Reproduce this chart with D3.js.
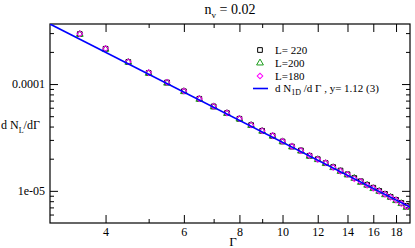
<!DOCTYPE html>
<html>
<head>
<meta charset="utf-8">
<script src="https://cdn.jsdelivr.net/npm/d3@7"></script>
<style>
  body { margin: 0; background: #fff; }
  text { font-family: "Liberation Serif", "DejaVu Serif", serif; fill: #000; }
  .tick line { stroke: #000; }
</style>
</head>
<body>
<div id="chart"></div>
<script>
{
  const gamma = [3.5, 4, 4.5, 5, 5.5, 6, 6.5, 7, 7.5, 8, 8.5, 9, 9.5, 10, 10.5, 11,
    11.5, 12, 12.5, 13, 13.5, 14, 14.5, 15, 15.5, 16, 16.5, 17, 17.5, 18, 18.5, 19];

  const nL220 = [2.94e-4, 2.14e-4, 1.61e-4, 1.27e-4, 1.035e-4, 8.56e-5, 7.28e-5, 6.17e-5,
    5.35e-5, 4.73e-5, 4.13e-5, 3.65e-5, 3.28e-5, 2.90e-5, 2.60e-5, 2.39e-5,
    2.13e-5, 1.98e-5, 1.82e-5, 1.67e-5, 1.55e-5, 1.43e-5, 1.32e-5, 1.23e-5,
    1.14e-5, 1.07e-5, 1.00e-5, 9.37e-6, 8.79e-6, 8.24e-6, 7.72e-6, 7.24e-6];
  const nL200 = [2.92e-4, 2.12e-4, 1.60e-4, 1.26e-4, 1.02e-4, 8.50e-5, 7.20e-5, 6.12e-5,
    5.30e-5, 4.70e-5, 4.10e-5, 3.62e-5, 3.25e-5, 2.88e-5, 2.58e-5, 2.36e-5,
    2.11e-5, 1.96e-5, 1.80e-5, 1.65e-5, 1.52e-5, 1.41e-5, 1.31e-5, 1.20e-5,
    1.13e-5, 1.05e-5, 9.9e-6, 9.2e-6, 8.7e-6, 8.1e-6, 7.6e-6, 7.0e-6];
  const nL180 = [2.96e-4, 2.15e-4, 1.62e-4, 1.28e-4, 1.04e-4, 8.6e-5, 7.3e-5, 6.2e-5,
    5.37e-5, 4.75e-5, 4.14e-5, 3.66e-5, 3.29e-5, 2.91e-5, 2.61e-5, 2.38e-5,
    2.14e-5, 1.97e-5, 1.83e-5, 1.66e-5, 1.53e-5, 1.42e-5, 1.30e-5, 1.22e-5,
    1.13e-5, 1.06e-5, 9.9e-6, 9.3e-6, 8.7e-6, 8.2e-6, 7.6e-6, 7.1e-6];

  // fitted power law, drawn between its two ends
  const fitGamma = [3, 19.35];
  const fitValue = [3.65e-4, 7.05e-6];

  const xMajor = [4, 6, 8, 10, 12, 14, 16, 18];
  const xMinor = [5, 7, 9];
  const yMajor = [1e-4, 1e-5];
  const yMajorLabels = ['0.0001', '1e-05'];
  const yMinor = [6e-6, 7e-6, 8e-6, 9e-6, 2e-5, 3e-5, 4e-5, 5e-5, 6e-5, 7e-5, 8e-5, 9e-5, 2e-4, 3e-4];

  const series = [
    { label: 'L= 220', values: nL220, shape: 'square', color: '#000000' },
    { label: 'L=200', values: nL200, shape: 'triangle', color: '#1a9c1a' },
    { label: 'L=180', values: nL180, shape: 'diamond', color: '#ff00ff' },
  ];

  const W = 415;
  const H = 248;
  const margin = { top: 24, right: 5, bottom: 25, left: 50 };

  const svg = d3.select('#chart').append('svg')
    .attr('width', W)
    .attr('height', H);

  const x = d3.scaleLog()
    .domain([3, 19.35])
    .range([margin.left, W - margin.right]);
  const y = d3.scaleLog()
    .domain([5e-6, 3.65e-4])
    .range([H - margin.bottom, margin.top]);

  const bottom = H - margin.bottom;
  const right = W - margin.right;

  function drawAxis(axis, tx, ty) {
    const g = svg.append('g')
      .attr('transform', `translate(${tx},${ty})`)
      .call(axis);
    g.select('.domain').remove();
    g.selectAll('text').style('font-size', '12px').style('font-family', '"Liberation Serif", serif');
    return g;
  }

  // x axes (ticks point inward)
  drawAxis(d3.axisBottom(x).tickValues(xMajor).tickSize(-8).tickPadding(4)
    .tickFormat(d3.format('d')), 0, bottom);
  drawAxis(d3.axisBottom(x).tickValues(xMinor).tickSize(-4).tickFormat(''), 0, bottom);
  drawAxis(d3.axisTop(x).tickValues(xMajor).tickSize(-8).tickFormat(''), 0, margin.top);
  drawAxis(d3.axisTop(x).tickValues(xMinor).tickSize(-4).tickFormat(''), 0, margin.top);

  // y axes
  drawAxis(d3.axisLeft(y).tickValues(yMajor).tickSize(-8).tickPadding(5)
    .tickFormat((d, i) => yMajorLabels[i]), margin.left, 0);
  drawAxis(d3.axisLeft(y).tickValues(yMinor).tickSize(-4).tickFormat(''), margin.left, 0);
  drawAxis(d3.axisRight(y).tickValues(yMajor).tickSize(-8).tickFormat(''), right, 0);
  drawAxis(d3.axisRight(y).tickValues(yMinor).tickSize(-4).tickFormat(''), right, 0);

  svg.append('rect')
    .attr('x', margin.left)
    .attr('y', margin.top)
    .attr('width', right - margin.left)
    .attr('height', bottom - margin.top)
    .attr('fill', 'none')
    .attr('stroke', '#000')
    .attr('stroke-width', 1.2);

  svg.append('clipPath').attr('id', 'clip')
    .append('rect')
    .attr('x', margin.left)
    .attr('y', margin.top)
    .attr('width', right - margin.left)
    .attr('height', bottom - margin.top);

  function marker(shape) {
    if (shape === 'square') return d3.symbol(d3.symbolSquare, 22)();
    if (shape === 'triangle') return d3.symbol(d3.symbolTriangle, 20)();
    return d3.symbol(d3.symbolSquare, 16)();
  }

  const plot = svg.append('g').attr('clip-path', 'url(#clip)');

  series.forEach((s) => {
    plot.append('g')
      .selectAll('path')
      .data(gamma.map((g, i) => [g, s.values[i]]))
      .join('path')
      .attr('d', marker(s.shape))
      .attr('transform', (d) => `translate(${x(d[0])},${y(d[1])})${s.shape === 'diamond' ? ' rotate(45)' : ''}`)
      .attr('fill', 'none')
      .attr('stroke', s.color)
      .attr('stroke-width', 1);
  });

  const line = d3.line()
    .x((d) => x(d[0]))
    .y((d) => y(d[1]));

  plot.append('path')
    .datum(fitGamma.map((g, i) => [g, fitValue[i]]))
    .attr('d', line)
    .attr('fill', 'none')
    .attr('stroke', '#0000ff')
    .attr('stroke-width', 1.6);

  // title
  const title = svg.append('text')
    .attr('x', (margin.left + right) / 2)
    .attr('y', 14)
    .attr('text-anchor', 'middle')
    .style('font-size', '14px');
  title.append('tspan').text('n');
  title.append('tspan').attr('dy', 4).style('font-size', '9px').text('v');
  title.append('tspan').attr('dy', -4).text(' = 0.02');

  // axis labels
  svg.append('text')
    .attr('x', (margin.left + right) / 2 + 3)
    .attr('y', 246)
    .attr('text-anchor', 'middle')
    .style('font-size', '13px')
    .text('Γ');

  const ylab = svg.append('text')
    .attr('x', 1)
    .attr('y', 129)
    .style('font-size', '12px');
  ylab.append('tspan').text('d N');
  ylab.append('tspan').attr('dy', 4).style('font-size', '8px').text('L');
  ylab.append('tspan').attr('dy', -4).text('/dΓ');

  // legend
  const legend = svg.append('g');
  const rowY = [50, 63, 76];
  series.forEach((s, i) => {
    legend.append('path')
      .attr('d', marker(s.shape))
      .attr('transform', `translate(260,${rowY[i]})${s.shape === 'diamond' ? ' rotate(45)' : ''}`)
      .attr('fill', 'none')
      .attr('stroke', s.color);
    legend.append('text')
      .attr('x', 275)
      .attr('y', rowY[i] + 4)
      .style('font-size', '11px')
      .text(s.label);
  });
  legend.append('line')
    .attr('x1', 253).attr('x2', 268)
    .attr('y1', 88.5).attr('y2', 88.5)
    .attr('stroke', '#0000ff')
    .attr('stroke-width', 1.6);
  const fitLab = legend.append('text')
    .attr('x', 275)
    .attr('y', 92)
    .style('font-size', '11px');
  fitLab.append('tspan').text('d N');
  fitLab.append('tspan').attr('dy', 3).style('font-size', '8px').text('1D');
  fitLab.append('tspan').attr('dy', -3).text(' /d Γ , y= 1.12 (3)');
}
</script>
</body>
</html>
